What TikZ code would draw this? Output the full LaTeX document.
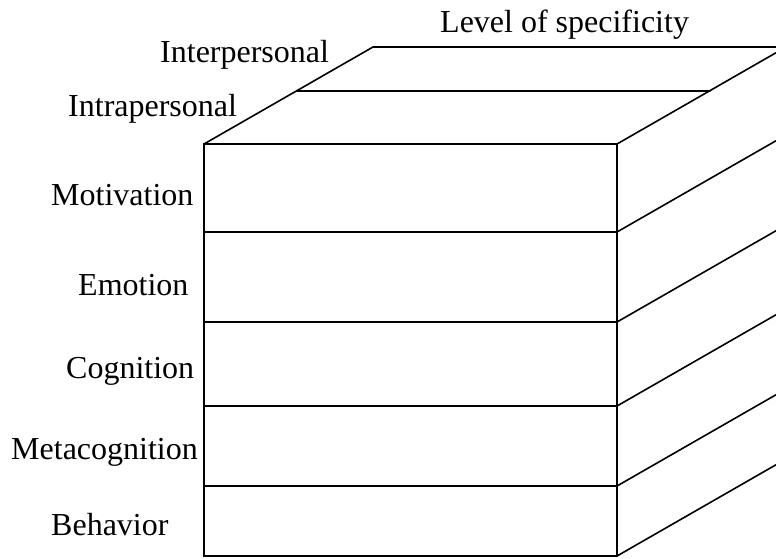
\documentclass[tikz,border=0pt]{standalone}
\usepackage{fontspec}
\setmainfont{Liberation Serif}
\begin{document}
\begin{tikzpicture}[x=1pt,y=-1pt,
  edge/.style={line width=1.6pt, line cap=round, line join=miter},
  lbl/.style={anchor=base west, inner sep=0pt, font=\fontsize{32}{38}\selectfont}]
\useasboundingbox (0,0) rectangle (776,558);
% front face corners and dividers
\coordinate (tl) at (204,144);
\coordinate (tr) at (617,144);
\coordinate (bl) at (204,556);
\coordinate (br) at (617,556);
\coordinate (l1) at (204,232); \coordinate (r1) at (617,232);
\coordinate (l2) at (204,322); \coordinate (r2) at (617,322);
\coordinate (l3) at (204,406); \coordinate (r3) at (617,406);
\coordinate (l4) at (204,486); \coordinate (r4) at (617,486);
% top face
\coordinate (btl) at (373,47);
\coordinate (btr) at (786,47);
\coordinate (mtl) at (297,91);
\coordinate (mtr) at (710,91);
\begin{scope}
\clip (0,0) rectangle (776,558);
\draw[edge] (tl) -- (tr) -- (br) -- (bl) -- cycle;
\foreach \i in {1,2,3,4} \draw[edge] (l\i) -- (r\i);
\draw[edge] (tl) -- (btl) -- (btr);
\draw[edge] (mtl) -- (mtr);
\draw[edge] (tr) -- ++(169,-97);
\foreach \p in {r1,r2,r3,r4,br} \draw[edge] (\p) -- ++(169,-97);
\end{scope}
% labels
\node[lbl] (spec) at (440,32) {Level of specificity};
\node[lbl] (inter) at (160,62) {Interpersonal};
\node[lbl] (intra) at (68,116) {Intrapersonal};
\node[lbl] (mot) at (51,205) {Motivation};
\node[lbl] (emo) at (78,295) {Emotion};
\node[lbl] (cog) at (66,378) {Cognition};
\node[lbl] (meta) at (11,459) {Metacognition};
\node[lbl] (beh) at (51,535) {Behavior};
\end{tikzpicture}
\end{document}
